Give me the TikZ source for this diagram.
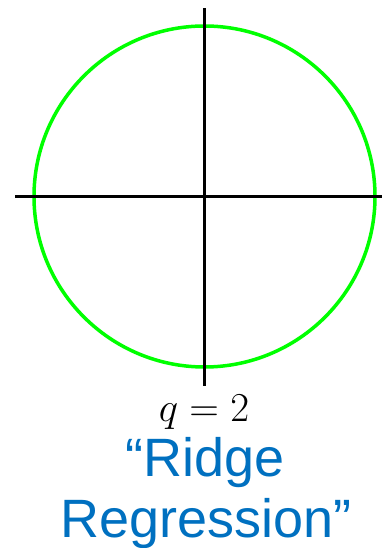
\documentclass[tikz,border=0pt]{standalone}
\usepackage{graphicx}
\usepackage{fontspec}
\newfontfamily\captionfont{Liberation Sans}
\usepackage{tikz}
\usetikzlibrary{positioning}
\definecolor{ink}{HTML}{000000}
\definecolor{ballgreen}{HTML}{00FF00}
\definecolor{titleblue}{HTML}{0070C0}
\tikzset{
  axis/.style={draw=ink,line width=3.5pt},
  ball/.style={draw=ballgreen,line width=3.5pt},
  qlabel/.style={anchor=base,inner sep=0pt,font=\Huge,text=ink},
  title/.style={anchor=base,inner sep=0pt,font=\captionfont\fontsize{54}{61}\selectfont,text=titleblue}
}
\begin{document}
\begin{tikzpicture}[x=1pt,y=1pt]
    \useasboundingbox (0,0) rectangle (382,548);
    \coordinate (origin) at (204.5,351.5);
    \coordinate (xmin) at (15,351.5);
    \coordinate (xmax) at (382,351.5);
    \coordinate (ymax) at (204.5,540);
    \coordinate (ymin) at (204.5,162);
    \draw[ball] (origin) circle (170.5pt);
    \draw[axis] (xmin) -- (xmax);
    \draw[axis] (ymin) -- (ymax);

    \node[qlabel] (q) at (204,126) {\scalebox{1.65}{$q=2$}};
    \node[title] (ridge) at (205,71) {“Ridge};
    \node[title] (regression) at (206,10) {Regression”};
\end{tikzpicture}
\end{document}
